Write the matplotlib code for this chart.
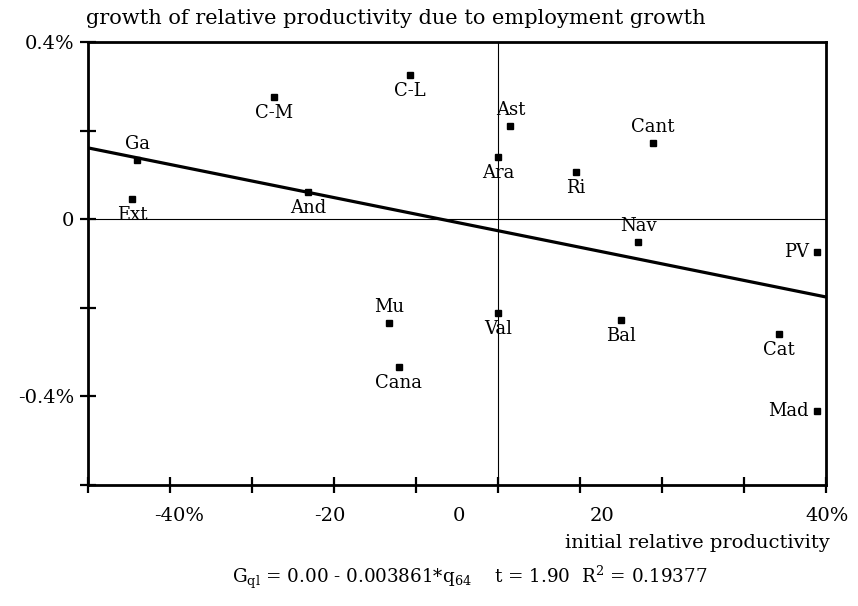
import numpy as np
import matplotlib
matplotlib.use("Agg")
import matplotlib.pyplot as plt
import matplotlib.transforms as mtransforms

plt.rcParams['font.family'] = ['DejaVu Serif']
plt.rcParams['mathtext.fontset'] = 'dejavuserif'

# regions: initial relative productivity (%) vs growth of relative productivity (%)
regions = ["Ga", "Ext", "C-M", "C-L", "And", "Ast", "Cant", "Ara", "Ri",
           "Nav", "PV", "Val", "Bal", "Cat", "Mad", "Mu", "Cana"]
q64 = [-44.0, -44.6, -27.3, -10.7, -23.2, 1.5, 18.9, 0.0, 9.5,
       17.1, 38.9, 0.0, 15.0, 34.3, 38.9, -13.3, -12.1]
gql = [0.134, 0.046, 0.276, 0.326, 0.061, 0.210, 0.172, 0.140, 0.107,
       -0.051, -0.074, -0.212, -0.228, -0.259, -0.433, -0.234, -0.334]
label_side = ["above", "below", "below", "below", "below", "above", "above",
              "below", "below", "above", "left", "below", "below", "below",
              "left", "above", "below"]

# fitted line as drawn
fit_intercept = -0.026
fit_slope = -0.00374

x_ticks = np.arange(-50, 41, 10)
y_ticks = [0.4, 0.2, 0.0, -0.2, -0.4, -0.6]
y_tick_labels = ["0.4%", "", "0", "", "-0.4%", ""]
# x tick labels sit a little off their ticks in the original
x_label_text = ["-40%", "-20", "0", "20", "40%"]
x_label_pos = [-38.9, -20.5, -4.8, 12.7, 40.1]

fig = plt.figure(figsize=(8.58, 6.06), dpi=100)
ax = fig.add_axes([88 / 858, 121 / 606, 738 / 858, 443 / 606])

ax.set_xlim(-50, 40)
ax.set_ylim(-0.6, 0.4)

ax.axhline(0, color="black", lw=0.8, zorder=1)
ax.axvline(0, color="black", lw=0.8, zorder=1)

xs = np.array(ax.get_xlim())
ax.plot(xs, fit_intercept + fit_slope * xs, color="black", lw=2.3, zorder=2,
        solid_capstyle="butt")

ax.plot(q64, gql, "s", color="black", ms=4.5, zorder=3, clip_on=False)

offsets = {"above": (0, 16, "center"), "below": (0, -16, "center"),
           "left": (-8, 0, "right")}
for name, x, y, side in zip(regions, q64, gql, label_side):
    dx, dy, ha = offsets[side]
    ax.annotate(name, (x, y), xytext=(dx, dy), textcoords="offset pixels",
                ha=ha, va="center", fontsize=13)

for sp in ax.spines.values():
    sp.set_linewidth(2.0)

ax.set_xticks(x_ticks)
ax.set_xticklabels([""] * len(x_ticks))
ax.set_yticks(y_ticks)
ax.set_yticklabels(y_tick_labels, fontsize=14)
ax.tick_params(axis="both", direction="inout", length=12, width=1.6)
ax.tick_params(axis="y", pad=4)

trans = mtransforms.blended_transform_factory(ax.transData, ax.transAxes)
for txt, pos in zip(x_label_text, x_label_pos):
    ax.text(pos, -0.07, txt, transform=trans, ha="center", va="center",
            fontsize=14)

fig.text(86 / 858, 1 - 18 / 606, "growth of relative productivity due to employment growth",
         ha="left", va="center", fontsize=15)
fig.text(830 / 858, 1 - 543 / 606, "initial relative productivity",
         ha="right", va="center", fontsize=14)
fig.text(470 / 858, 1 - 577 / 606,
         r"G$_\mathrm{ql}$ = 0.00 - 0.003861*q$_\mathrm{64}$    t = 1.90  R$^\mathrm{2}$ = 0.19377",
         ha="center", va="center", fontsize=13.2)

fig.savefig("out.png", dpi=100)
